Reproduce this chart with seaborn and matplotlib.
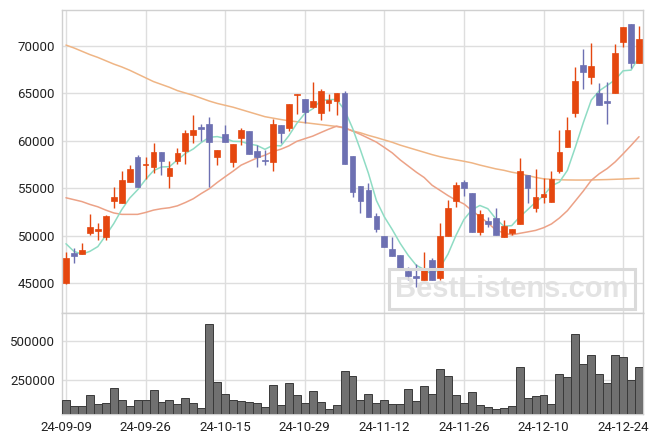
import numpy as np
import pandas as pd
import matplotlib
matplotlib.use("Agg")
import matplotlib.pyplot as plt
import seaborn as sns

dates = ["24-09-09","24-09-10","24-09-11","24-09-12","24-09-13","24-09-19","24-09-20","24-09-23","24-09-24","24-09-25",
         "24-09-26","24-09-27","24-09-30","24-10-02","24-10-04","24-10-07","24-10-08","24-10-10","24-10-11","24-10-14",
         "24-10-15","24-10-16","24-10-17","24-10-18","24-10-21","24-10-22","24-10-23","24-10-24","24-10-25","24-10-28",
         "24-10-29","24-10-30","24-10-31","24-11-01","24-11-04","24-11-05","24-11-06","24-11-07","24-11-08","24-11-11",
         "24-11-12","24-11-13","24-11-14","24-11-15","24-11-18","24-11-19","24-11-20","24-11-21","24-11-22","24-11-25",
         "24-11-26","24-11-27","24-11-28","24-11-29","24-12-02","24-12-03","24-12-04","24-12-05","24-12-06","24-12-09",
         "24-12-10","24-12-11","24-12-12","24-12-13","24-12-16","24-12-17","24-12-18","24-12-19","24-12-20","24-12-23",
         "24-12-24","24-12-26","24-12-27"]

open_ = [45000,48200,48050,50260,50530,49900,53700,53480,55630,58300,
         57450,57210,58820,56330,57910,58900,60620,61430,61810,58340,
         60720,57810,60340,61040,58930,58010,57810,61640,61330,64840,
         64410,63600,62980,63960,64240,65020,58410,55240,54820,52080,
         49970,48570,47970,46280,45750,45350,47450,45520,49970,53700,
         55630,54470,50430,51550,51840,49830,50320,51240,56400,52890,
         54120,53590,56830,59390,62980,68000,66770,65080,64200,65080,
         70450,72320,68170]
high = [48300,48680,49270,52330,51310,52190,55170,56790,57430,58510,
        58300,59810,58820,57880,59220,61150,62730,61780,62490,59040,
        61670,59640,61320,61040,59570,59040,62270,61640,63890,64940,
        64410,66240,65440,64940,65080,65290,58410,55240,55590,52360,
        49970,49900,47970,46740,46990,48230,47620,51310,53770,55700,
        55880,54470,52710,52010,52890,51660,50710,58160,56400,57000,
        56120,56830,61150,62490,67820,69680,70280,66070,66170,70180,
        72030,72320,72110]
low = [44950,47160,48050,50080,49550,49550,52890,53400,55630,55170,
       56000,56650,56400,55000,57560,57560,59740,59990,55110,57460,
       59920,57210,59570,58580,57210,57430,56830,59810,61080,62830,
       61850,63500,62200,63150,62730,57530,54040,52360,52010,50370,
       48850,47900,46390,45350,44630,45350,45350,45350,49970,53070,
       54190,50430,50080,50890,50080,49830,50080,51240,53420,52540,
       53420,53520,56580,59390,62550,65470,65960,63780,61740,65080,
       69860,67650,68170]
close = [47700,47900,48500,50920,50740,52080,54090,55880,57000,55170,
         57450,58790,57850,57140,58720,60870,61150,61250,59920,59040,
         59920,59640,61150,58580,58330,57850,61740,60870,63890,64840,
         63080,64200,65260,64310,65020,57530,54640,53700,52010,50740,
         48850,47900,46390,45790,45520,46570,45350,49970,52890,55350,
         55000,50430,52290,51200,50080,51030,50710,56860,55000,54050,
         54400,55980,58860,61150,66310,67290,67890,63780,63960,69290,
         72030,68240,70740]
volume = [123000,83000,83000,152000,95000,102000,197000,123000,83000,123000,
          123000,186000,108000,123000,95000,133000,102000,70000,610000,235000,
          159000,123000,114000,110000,102000,76000,216000,89000,229000,152000,
          102000,178000,108000,64000,89000,305000,273000,123000,159000,102000,
          123000,95000,95000,191000,114000,210000,159000,318000,273000,152000,
          102000,172000,89000,76000,64000,70000,83000,330000,133000,146000,
          152000,95000,286000,267000,547000,350000,413000,286000,229000,407000,
          394000,248000,330000]
ma5 = [49150,48350,48050,48350,48850,50030,51270,52740,53960,54840,
       55920,56860,57250,57280,57990,58670,59150,59830,60380,60450,
       60260,59950,59930,59670,59520,59110,59530,59470,60540,61840,
       62880,63380,64250,64340,64370,63260,61350,59040,56580,53720,
       51990,50640,49180,47930,46890,46430,45920,46640,48060,50030,
       51710,52730,53190,52850,51800,51010,51060,51980,52740,53530,
       54200,55260,55660,56890,59340,61920,64300,65280,65850,66440,
       67390,67460,68850]
ma20 = [54000,53800,53600,53300,53050,52700,52400,52250,52250,52250,
        52450,52700,52850,52950,53150,53500,53900,54450,54950,55610,
        56220,56810,57440,57820,58200,58490,58870,59120,59470,59950,
        60230,60500,60870,61230,61550,61380,61050,60680,60280,59870,
        59310,58730,57990,57350,56710,56140,55320,54780,54230,53750,
        53350,52660,52010,51360,50610,50290,50090,50250,50400,50560,
        50840,51240,51870,52640,53670,54710,55840,56530,57080,57780,
        58630,59520,60440]
ma120 = [70100,69800,69450,69100,68800,68450,68100,67800,67450,67050,
         66650,66250,65950,65650,65300,65050,64800,64500,64200,63950,
         63750,63550,63300,63050,62800,62550,62400,62250,62120,62020,
         61920,61820,61720,61620,61520,61350,61050,60850,60580,60350,
         60100,59850,59550,59300,59050,58800,58550,58330,58150,58000,
         57850,57680,57450,57250,57050,56900,56700,56550,56350,56150,
         56000,55950,55900,55880,55870,55870,55880,55900,55920,55950,
         55980,56020,56050]
price_ticks = [45000, 50000, 55000, 60000, 65000, 70000]
vol_ticks = [250000, 500000]
tick_idx = [0, 10, 20, 30, 40, 50, 60, 70]

UP = "#e5470f"
DOWN = "#6d70b2"

df = pd.DataFrame({"i": np.arange(len(dates)), "date": dates, "open": open_, "high": high,
                   "low": low, "close": close, "volume": volume,
                   "ma5": ma5, "ma20": ma20, "ma120": ma120})
df["up"] = df["close"] >= df["open"]

sns.set_theme(style="white")
plt.rcParams["font.family"] = ["Roboto", "DejaVu Sans"]

fig = plt.figure(figsize=(6.63, 4.44), dpi=100)
ax = fig.add_axes([62/663, 1-313/444, 581/663, 303/444])
axv = fig.add_axes([62/663, 1-414/444, 581/663, 101/444], sharex=ax)

for a in (ax, axv):
    a.set_facecolor("white")
    for s in a.spines.values():
        s.set_color("#d0d0d0")
        s.set_linewidth(1.0)
    a.grid(True, color="#dedede", linewidth=1.0)
    a.set_axisbelow(True)

# moving averages
sns.lineplot(data=df, x="i", y="ma120", ax=ax, color="#efb585", linewidth=1.1, zorder=2)
sns.lineplot(data=df, x="i", y="ma20", ax=ax, color="#eca287", linewidth=1.1, zorder=2)
sns.lineplot(data=df, x="i", y="ma5", ax=ax, color="#8fdcc4", linewidth=1.1, zorder=2)

# candles
cols = np.where(df["up"], UP, DOWN)
ax.vlines(df["i"], df["low"], df["high"], colors=cols, linewidth=1.0, zorder=3)
body_lo = np.minimum(df["open"], df["close"])
body_h = np.maximum(np.abs(df["close"] - df["open"]), 120)
ax.bar(df["i"], body_h, bottom=body_lo, width=0.72, color=cols, edgecolor=cols,
       linewidth=0.5, zorder=4)

ax.set_ylim(41850, 73800)
ax.set_xlim(-0.5, len(dates) - 0.5)
ax.set_yticks(price_ticks)
ax.set_yticklabels([str(t) for t in price_ticks])
ax.set_xticks(tick_idx)
ax.tick_params(axis="x", labelbottom=False, length=0)
ax.tick_params(axis="y", length=0, labelsize=9.5, labelcolor="#222222", pad=5)
ax.set_xlabel("")
ax.set_ylabel("")

# volume
axv.bar(df["i"], df["volume"], width=1.0, color="#707070", edgecolor="#3a3a3a",
        linewidth=0.7, zorder=3)
axv.set_ylim(32000, 679000)
axv.set_yticks(vol_ticks)
axv.set_yticklabels([str(t) for t in vol_ticks])
axv.set_xticks(tick_idx)
axv.set_xticklabels([dates[k] for k in tick_idx])
axv.tick_params(axis="both", length=0, labelsize=9.5, labelcolor="#222222", pad=5)
axv.set_xlabel("")
axv.set_ylabel("")

# watermark
fig.text(512/663, 1-289/444, "BestListens.com", ha="center", va="center",
         fontsize=21, fontweight="bold", family="Liberation Sans", color="#e0e0e0",
         zorder=0, alpha=0.9,
         bbox=dict(boxstyle="square,pad=0.2", facecolor="none", edgecolor="#dadada", linewidth=2.2))

fig.savefig("out.png", dpi=100)
